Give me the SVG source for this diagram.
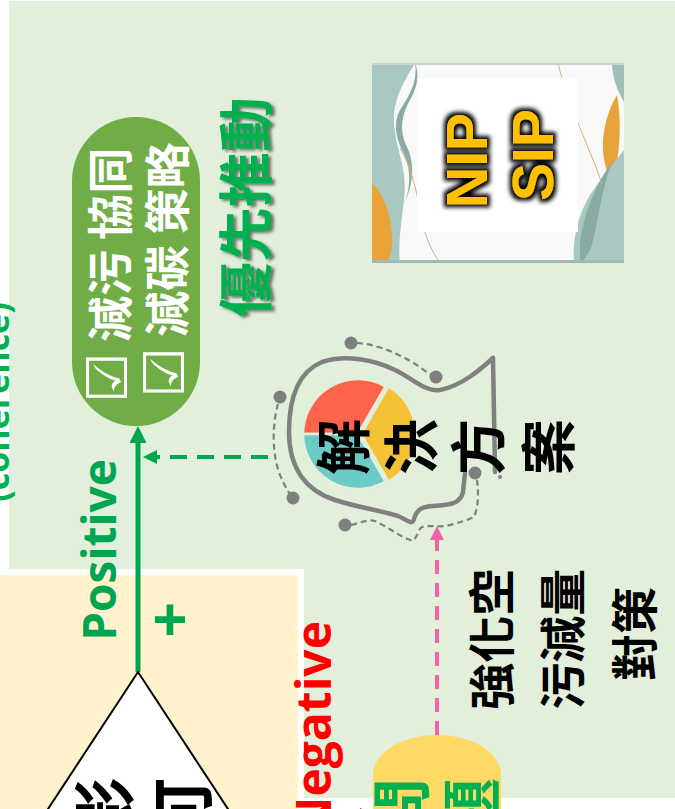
<svg xmlns="http://www.w3.org/2000/svg" width="675" height="809" viewBox="0 0 675 809">
  <defs>
    <style>
      .cjk { font-family: "Noto Sans CJK TC", "Noto Sans CJK SC", "DejaVu Sans", sans-serif; font-weight: 700; }
      .lat { font-family: "Open Sans", "Liberation Sans", sans-serif; font-weight: 700; }
      .dot { fill: #7f7f7f; }
      .orbit { fill: none; stroke: #7f7f7f; stroke-width: 2.2; stroke-dasharray: 6 4; }
      .slice { stroke: #E2EFDA; stroke-width: 2.5; stroke-linejoin: round; }
      .box { font-size: 56px; }
    </style>
    <marker id="arrowGreen" viewBox="0 0 10 10" refX="0" refY="5" markerUnits="userSpaceOnUse" markerWidth="17" markerHeight="17" orient="auto">
      <path d="M0,0 L10,5 L0,10 Z" fill="#00A550"/>
    </marker>
    <marker id="arrowGreenSmall" viewBox="0 0 10 10" refX="0" refY="5" markerUnits="userSpaceOnUse" markerWidth="16" markerHeight="14" orient="auto">
      <path d="M0,0 L10,5 L0,10 Z" fill="#00A550"/>
    </marker>
    <marker id="arrowPink" viewBox="0 0 10 10" refX="0" refY="5" markerUnits="userSpaceOnUse" markerWidth="14" markerHeight="14" orient="auto">
      <path d="M0,0 L10,5 L0,10 Z" fill="#F462A8"/>
    </marker>
    <marker id="arrowRed" viewBox="0 0 10 10" refX="0" refY="5" markerUnits="userSpaceOnUse" markerWidth="16" markerHeight="22" orient="auto">
      <path d="M0,0 L10,5 L0,10 Z" fill="#FF0000"/>
    </marker>
    <filter id="darkGlow" x="-20%" y="-20%" width="140%" height="140%">
      <feMorphology in="SourceAlpha" operator="dilate" radius="3" result="fat"/>
      <feGaussianBlur in="fat" stdDeviation="2" result="blur"/>
      <feFlood flood-color="#000"/>
      <feComposite in2="blur" operator="in" result="halo"/>
      <feMerge>
        <feMergeNode in="halo"/>
        <feMergeNode in="SourceGraphic"/>
      </feMerge>
    </filter>
    <filter id="softShadow" x="-20%" y="-10%" width="140%" height="120%">
      <feDropShadow dx="3" dy="2" stdDeviation="1.6" flood-color="#333" flood-opacity="0.65"/>
    </filter>
  </defs>

  <!-- page and panels -->
  <rect width="675" height="809" fill="#fff"/>
  <rect x="9" y="1" width="666" height="797" fill="#E2EFDA"/>
  <g id="impact-panel">
    <rect x="-10" y="572" width="311" height="260" fill="#FFF2CC" stroke="#fff" stroke-width="6"/>
  </g>

  <!-- side label -->
  <g id="coherence-label">
    <text class="lat" font-size="34" fill="#00B050" text-anchor="middle" transform="rotate(-90)" x="-402" y="9">(coherence)</text>
  </g>

  <!-- connectors -->
  <g id="connectors" fill="none">
    <line x1="138" y1="672" x2="138" y2="443" stroke="#00A550" stroke-width="5" marker-end="url(#arrowGreen)"/>
    <line x1="268" y1="457" x2="157" y2="457" stroke="#00A550" stroke-width="4" stroke-dasharray="17 10" marker-end="url(#arrowGreenSmall)"/>
    <line x1="437" y1="735" x2="437" y2="540" stroke="#F462A8" stroke-width="4" stroke-dasharray="14 9" marker-end="url(#arrowPink)"/>
    <line x1="230" y1="816" x2="360" y2="816" stroke="#FF0000" stroke-width="4" marker-end="url(#arrowRed)"/>
  </g>

  <!-- strategy pill -->
  <g id="strategy">
    <rect x="72" y="117" width="128" height="309" rx="64" fill="#70AD47"/>
    <text class="cjk" font-size="46" fill="#fff" text-anchor="middle" transform="rotate(-90)">
      <tspan x="-270" y="127"><tspan class="box">☑</tspan> 減污 協同</tspan>
      <tspan x="-270" y="184"><tspan class="box">☑</tspan> 減碳 策略</tspan>
    </text>
  </g>

  <!-- priority label -->
  <g id="priority" filter="url(#softShadow)">
    <text class="cjk" font-size="55" fill="#00B050" text-anchor="middle" transform="rotate(-90)" x="-207" y="266">優先推動</text>
  </g>

  <!-- NIP / SIP card -->
  <g id="nip-sip">
    <rect x="372" y="63" width="252" height="200" fill="#f8f9f8"/>
    <path d="M372,63 H415 C405,80 392,100 394,125 C396,150 408,170 404,200 C401,225 398,245 400,263 H372 Z" fill="#a9c8c1"/>
    <path d="M415,63 C418,80 410,95 400,110 C393,122 396,138 402,150 C410,165 412,182 405,202 C415,180 414,160 406,145 C399,130 402,114 410,100 C417,88 420,75 415,63 Z" fill="#8aaca4"/>
    <path d="M372,183 C385,195 393,220 392,245 C391,255 388,262 386,263 H372 Z" fill="#E8A33A"/>
    <path d="M400,148 C410,165 415,185 418,200 C421,225 428,245 438,260" fill="none" stroke="#d9b27a" stroke-width="1"/>
    <path d="M612,63 H624 V102 C618,92 612,78 612,63 Z" fill="#9dbfb7"/>
    <path d="M617,95 C608,110 602,130 603,150 C604,165 608,175 612,182 C620,160 622,120 617,95 Z" fill="#E8A33A"/>
    <path d="M574,263 C572,240 578,215 590,195 C600,180 612,165 624,150 V263 Z" fill="#a9c8c1"/>
    <path d="M580,240 C585,212 595,185 612,162 C602,188 600,212 592,245 C588,255 584,260 580,263 Z" fill="#88aba2"/>
    <path d="M558,63 C562,80 570,105 585,140 C592,158 598,170 602,185" fill="none" stroke="#d9b27a" stroke-width="1"/>
    <rect x="372" y="63" width="252" height="2" fill="#c9d3cf"/>
    <rect x="372" y="260" width="252" height="3" fill="#9fb8b1"/>
    <rect x="417" y="78" width="161" height="154" fill="#fff"/>
    <g filter="url(#darkGlow)">
      <text font-family="'Liberation Sans', Arial, sans-serif" font-weight="700" font-size="57" fill="#FFC000" text-anchor="middle" transform="rotate(-90)">
        <tspan x="-153" y="487">NIP</tspan>
        <tspan x="-155" y="553">SIP</tspan>
      </text>
    </g>
  </g>

  <!-- solution head with pie -->
  <g id="solution">
    <path class="slice" d="M358,434 L303,434 A55,55 0 0 1 385.5,386.4 Z" fill="#FE634C"/>
    <path class="slice" d="M361,434 L388.5,386.4 A55,55 0 0 1 388.5,481.6 Z" fill="#F5C236"/>
    <path class="slice" d="M358,434 L385.5,481.6 A55,55 0 0 1 303,434 Z" fill="#6CCBC6"/>
    <path d="M493,358 L495,472 M493,358 C482,368 462,386 440,390 C425,392 412,378 395,370 C375,360 345,354 322,362 C298,372 289,398 289,432 C289,466 304,490 335,500 C360,508 383,511 398,516 C408,520 412,526 414,519 C417,509 422,507 432,506 C445,505 460,506 463,492 L465,473" fill="none" stroke="#808080" stroke-width="4.5" stroke-linecap="round" stroke-linejoin="round"/>
    <path class="orbit" d="M357,343 C375,344 395,352 412,362 C420,367 426,372 432,375"/>
    <path class="orbit" d="M278,404 C272,425 272,455 280,475 C284,484 287,490 290,494"/>
    <path class="orbit" d="M351,525 C360,523 368,519 375,521 C388,527 400,537 413,541 C418,536 418,529 422,527 C430,525 438,527 446,526 C458,523 468,520 474,517 C478,508 479,496 477,480"/>
    <circle class="dot" cx="351" cy="343" r="6.5"/>
    <circle class="dot" cx="436" cy="377" r="6.5"/>
    <circle class="dot" cx="280" cy="397" r="6.5"/>
    <circle class="dot" cx="293" cy="498" r="6.5"/>
    <circle class="dot" cx="345" cy="525" r="6.5"/>
    <circle class="dot" cx="475" cy="473" r="6.5"/>
    <circle class="dot" cx="500" cy="477" r="2"/>
    <text class="cjk" font-size="56" fill="#000" rotate="-90" x="364 432 499 569" y="475">解決方案</text>
  </g>

  <!-- measures text -->
  <g id="measures">
    <text class="cjk" font-size="47" fill="#000" text-anchor="middle" transform="rotate(-90)">
      <tspan x="-634" y="509">強化空</tspan>
      <tspan x="-634" y="580">污減量</tspan>
      <tspan x="-634" y="652">對策</tspan>
    </text>
  </g>

  <!-- polarity labels -->
  <g id="labels">
    <text class="lat" font-size="46" fill="#00A550" text-anchor="middle" transform="rotate(-90)" x="-550" y="116">Positive</text>
    <text class="lat" font-size="62" fill="#00A550" text-anchor="middle" x="170" y="642">+</text>
    <text class="lat" font-size="48" fill="#FF0000" text-anchor="end" transform="rotate(-90)" x="-621" y="331">Negative</text>
  </g>

  <!-- impact triangle -->
  <g id="impact">
    <polygon points="138,672 27,841 249,841" fill="#fff" stroke="#000" stroke-width="2"/>
    <text class="cjk" font-size="64" fill="#000" rotate="-90" x="128 206" y="841">影可</text>
  </g>

  <!-- issue box -->
  <g id="issue">
    <path d="M373,830 V775 C373,752 403,735 437,735 C471,735 501,752 501,775 V830 Z" fill="#FFD966"/>
    <text class="cjk" font-size="60" fill="#00B050" rotate="-90" x="424 494" y="838">問題</text>
  </g>
</svg>
